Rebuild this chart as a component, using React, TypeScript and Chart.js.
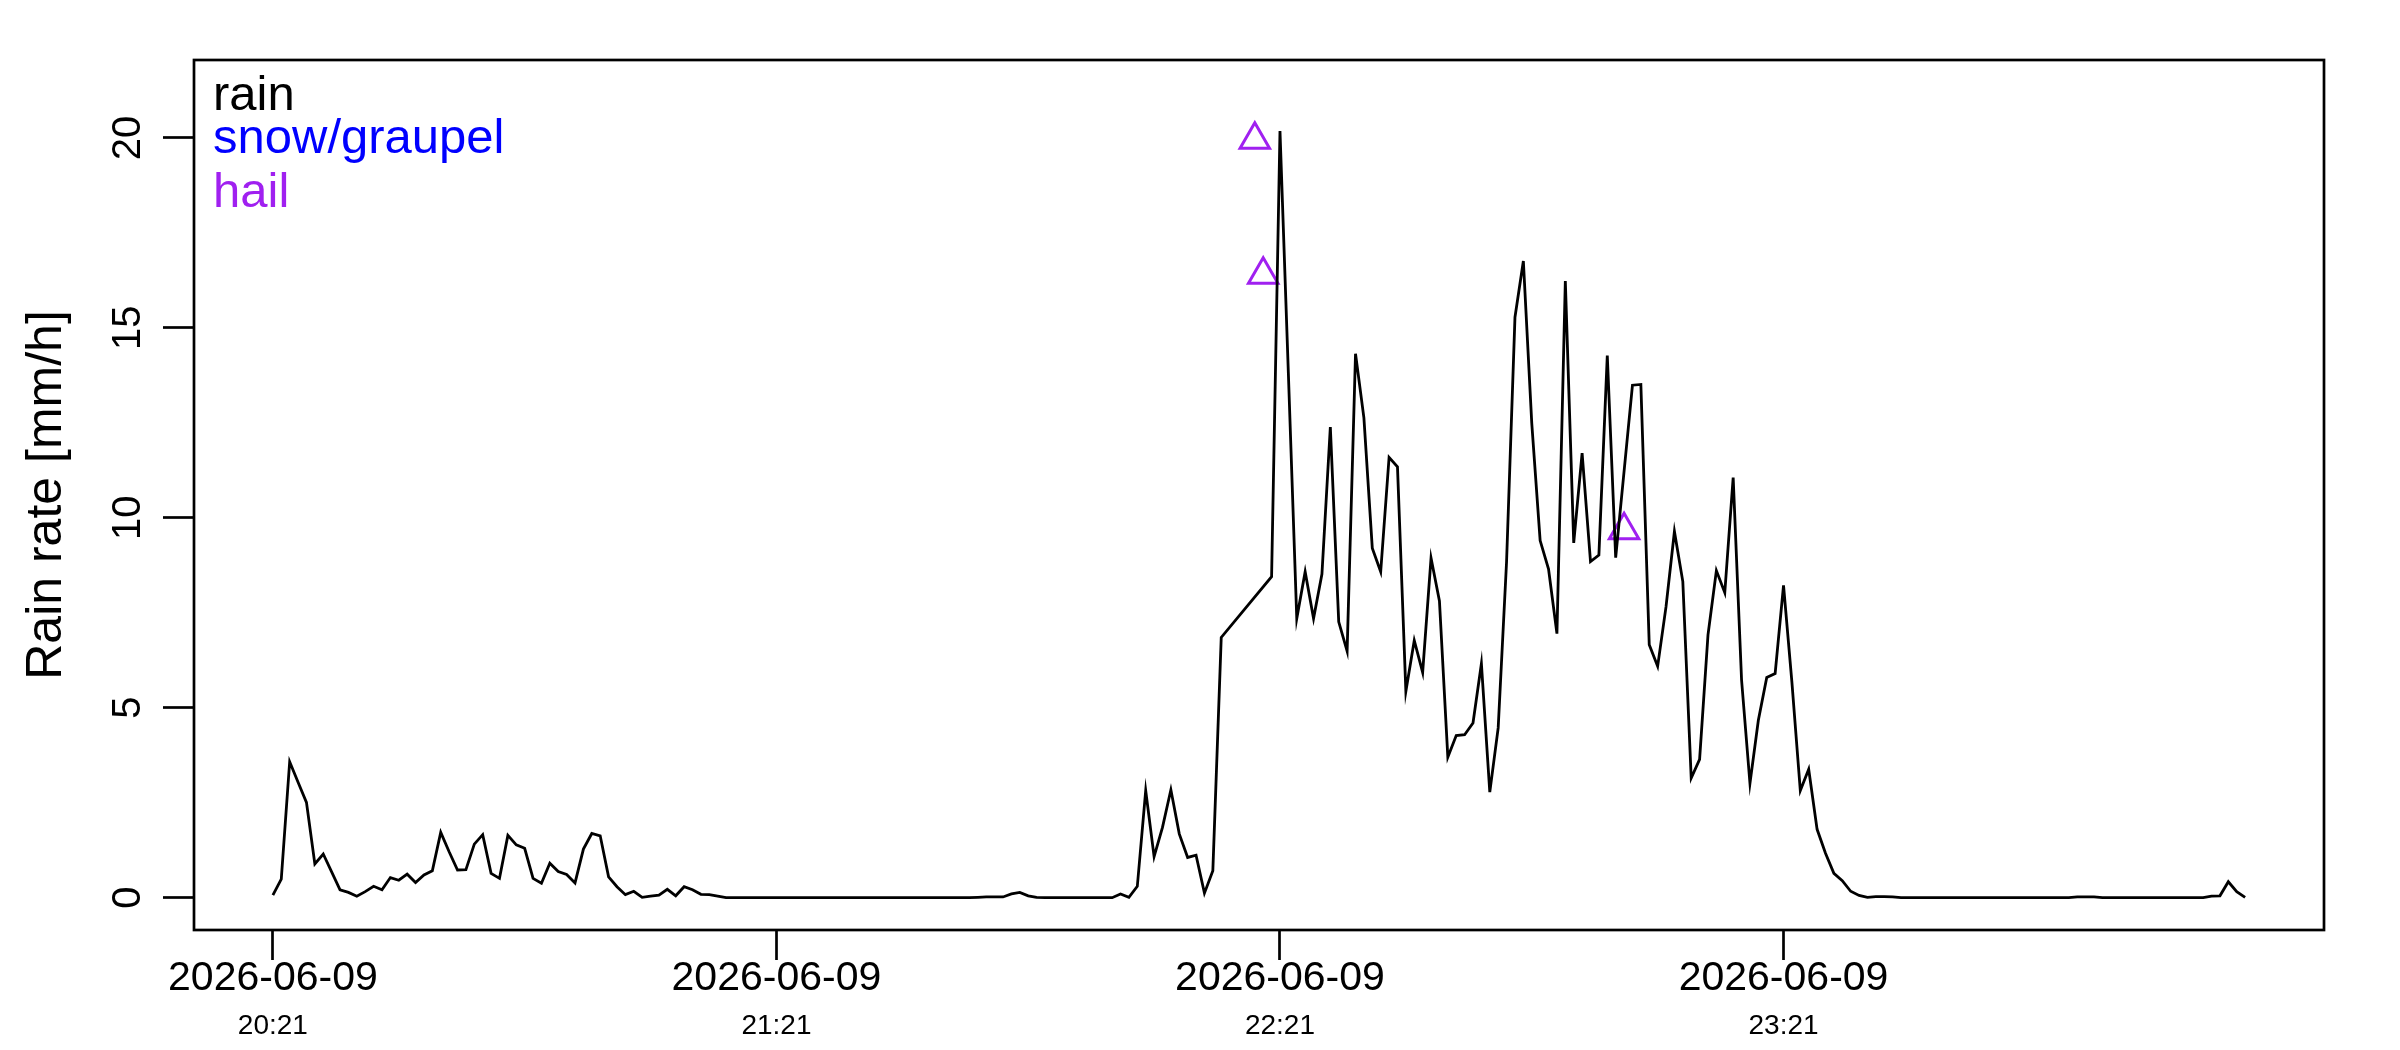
import { useEffect, useRef } from 'react';
import { Chart, registerables } from 'chart.js';

Chart.register(...registerables);

const FONT = '"Liberation Sans", Arial, Helvetica, sans-serif';

// rain rate in mm/h, one reading per minute starting 2026-06-09 20:21 (index = minute)
// null = no rain reading at that minute
const rainRate: (number | null)[] = [
  0.07, 0.49, 3.58, 3.04, 2.51, 0.89, 1.15, 0.68, 0.21, 0.14,
  0.04, 0.16, 0.3, 0.21, 0.53, 0.46, 0.62, 0.4, 0.6, 0.71,
  1.72, 1.21, 0.73, 0.74, 1.41, 1.66, 0.64, 0.51, 1.64, 1.39,
  1.3, 0.51, 0.38, 0.91, 0.69, 0.61, 0.39, 1.28, 1.69, 1.63,
  0.55, 0.29, 0.08, 0.17, 0.01, 0.04, 0.07, 0.22, 0.05, 0.29,
  0.21, 0.09, 0.08, 0.04, 0, 0, 0, 0, 0, 0,
  0, 0, 0, 0, 0, 0, 0, 0, 0, 0,
  0, 0, 0, 0, 0, 0, 0, 0, 0, 0,
  0, 0, 0, 0, 0.01, 0.02, 0.02, 0.02, 0.1, 0.14,
  0.05, 0.01, 0, 0, 0, 0, 0, 0, 0, 0,
  0, 0.1, 0.01, 0.3, 2.82, 1.08, 1.85, 2.84, 1.68, 1.06,
  1.12, 0.12, 0.71, 6.85, null, null, null, null, null, 8.45,
  20.18, 13.8, 7.35, 8.58, 7.35, 8.52, 12.39, 7.26, 6.49, 14.32,
  12.63, 9.2, 8.58, 11.59, 11.34, 5.43, 6.77, 5.93, 8.94, 7.81,
  3.7, 4.27, 4.29, 4.6, 6.16, 2.78, 4.47, 8.85, 15.28, 16.76,
  12.49, 9.4, 8.65, 6.95, 16.23, 9.34, 11.7, 8.85, 9.02, 14.27,
  8.95, null, 13.49, 13.51, 6.66, 6.09, 7.66, 9.64, 8.32, 3.15,
  3.64, 6.92, 8.61, 8.03, 11.06, 5.73, 3.01, 4.67, 5.8, 5.9,
  8.22, 5.67, 2.82, 3.38, 1.8, 1.17, 0.64, 0.45, 0.17, 0.06,
  0.01, 0.03, 0.03, 0.02, 0, 0, 0, 0, 0, 0,
  0, 0, 0, 0, 0, 0, 0, 0, 0, 0,
  0, 0, 0, 0, 0, 0.02, 0.02, 0.02, 0, 0,
  0, 0, 0, 0, 0, 0, 0, 0, 0, 0,
  0, 0.04, 0.05, 0.42, 0.16, 0.01,
];

// hail / snow readings (minute after 20:21, rate)
const hailMinutes = [117, 118, 161];
const hailRate = [19.95, 16.4, 9.67];
const snowMinutes: number[] = [];
const snowRate: number[] = [];

const tickMinutes = [0, 60, 120, 180];
const dateLabels = ['2026-06-09', '2026-06-09', '2026-06-09', '2026-06-09'];
const timeLabels = ['20:21', '21:21', '22:21', '23:21'];
const yTicks = [0, 5, 10, 15, 20];

const legendLabels = ['rain', 'snow/graupel', 'hail'];
const legendColors = ['#000000', '#0000FF', '#A020F0'];

const App = () => {
  const canvasRef = useRef<HTMLCanvasElement | null>(null);
  const chartRef = useRef<Chart | null>(null);

  useEffect(() => {
    document.body.style.margin = '0';
    if (!canvasRef.current) return;
    if (chartRef.current) chartRef.current.destroy();
    const ctx = canvasRef.current.getContext('2d');
    if (!ctx) return;

    // box around the plot region, like R's bty="o"
    const frame = {
      id: 'frame',
      afterDraw(chart: any) {
        const { ctx, chartArea: a } = chart;
        ctx.save();
        ctx.strokeStyle = '#000';
        ctx.lineWidth = 2.7;
        ctx.strokeRect(a.left, a.top, a.right - a.left, a.bottom - a.top);
        ctx.restore();
      },
    };

    // text-only legend in the top left corner
    const textLegend = {
      id: 'textLegend',
      afterDraw(chart: any) {
        const { ctx, chartArea: a } = chart;
        const baselines = [50, 93, 147];
        ctx.save();
        ctx.font = `49px ${FONT}`;
        ctx.textAlign = 'left';
        ctx.textBaseline = 'alphabetic';
        legendLabels.forEach((label, i) => {
          ctx.fillStyle = legendColors[i];
          ctx.fillText(label, a.left + 19, a.top + baselines[i]);
        });
        ctx.restore();
      },
    };

    chartRef.current = new Chart(ctx, {
      type: 'line',
      data: {
        datasets: [
          {
            label: 'rain',
            data: rainRate.map((v, i) => ({ x: i, y: v })),
            xAxisID: 'x',
            yAxisID: 'y',
            borderColor: '#000',
            borderWidth: 2.8,
            pointRadius: 0,
            spanGaps: true,
            tension: 0,
          },
          {
            label: 'snow/graupel',
            data: snowMinutes.map((m, i) => ({ x: m, y: snowRate[i] })),
            xAxisID: 'x',
            yAxisID: 'y',
            showLine: false,
            pointStyle: 'triangle',
            pointRadius: 17,
            pointBorderWidth: 3,
            borderColor: '#0000FF',
            backgroundColor: 'rgba(0,0,0,0)',
          },
          {
            label: 'hail',
            data: hailMinutes.map((m, i) => ({ x: m, y: hailRate[i] })),
            xAxisID: 'x',
            yAxisID: 'y',
            showLine: false,
            pointStyle: 'triangle',
            pointRadius: 17,
            pointBorderWidth: 3,
            borderColor: '#A020F0',
            backgroundColor: 'rgba(0,0,0,0)',
          },
        ],
      },
      options: {
        animation: false,
        responsive: false,
        devicePixelRatio: 1,
        events: [],
        layout: { padding: { top: 60, right: 76, bottom: 0, left: 0 } },
        plugins: {
          legend: { display: false },
          tooltip: { enabled: false },
        },
        scales: {
          x: {
            type: 'linear',
            axis: 'x',
            position: 'bottom',
            min: -9.4,
            max: 244.4,
            afterBuildTicks: (s: any) => {
              s.ticks = tickMinutes.map((v) => ({ value: v }));
            },
            afterFit: (s: any) => {
              s.height = 70;
            },
            grid: {
              drawOnChartArea: false,
              tickLength: 30,
              tickColor: '#000',
              tickWidth: 2.7,
            },
            border: { display: false },
            ticks: {
              color: '#000',
              font: { family: FONT, size: 41, lineHeight: 1 },
              padding: -2,
              autoSkip: false,
              minRotation: 0,
              maxRotation: 0,
              callback: (_v: any, i: number) => dateLabels[i],
            },
          },
          xTime: {
            type: 'linear',
            axis: 'x',
            position: 'bottom',
            weight: 1,
            min: -9.4,
            max: 244.4,
            afterBuildTicks: (s: any) => {
              s.ticks = tickMinutes.map((v) => ({ value: v }));
            },
            afterFit: (s: any) => {
              s.height = 50;
            },
            grid: { display: false, drawTicks: false },
            border: { display: false },
            ticks: {
              color: '#000',
              font: { family: FONT, size: 28, lineHeight: 1 },
              padding: 12,
              autoSkip: false,
              minRotation: 0,
              maxRotation: 0,
              callback: (_v: any, i: number) => timeLabels[i],
            },
          },
          y: {
            type: 'linear',
            min: -0.85,
            max: 22.05,
            afterBuildTicks: (s: any) => {
              s.ticks = yTicks.map((v) => ({ value: v }));
            },
            afterFit: (s: any) => {
              s.width = 194;
            },
            grid: {
              drawOnChartArea: false,
              tickLength: 31,
              tickColor: '#000',
              tickWidth: 2.7,
            },
            border: { display: false },
            ticks: {
              color: '#000',
              font: { family: FONT, size: 40, lineHeight: 1 },
              padding: 12,
              minRotation: 90,
              maxRotation: 90,
              crossAlign: 'center',
              callback: (v: any) => String(v),
            },
            title: {
              display: true,
              text: 'Rain rate [mm/h]',
              color: '#000',
              font: { family: FONT, size: 50, lineHeight: 1.2 },
              padding: { top: 17, bottom: 0 },
            },
          },
        },
      },
      plugins: [frame, textLegend],
    } as any);

    return () => {
      if (chartRef.current) {
        chartRef.current.destroy();
        chartRef.current = null;
      }
    };
  }, []);

  return (
    <div style={{ width: 2400, height: 1050, background: '#fff' }}>
      <canvas ref={canvasRef} width={2400} height={1050} style={{ display: 'block' }} />
    </div>
  );
};

export default App;
